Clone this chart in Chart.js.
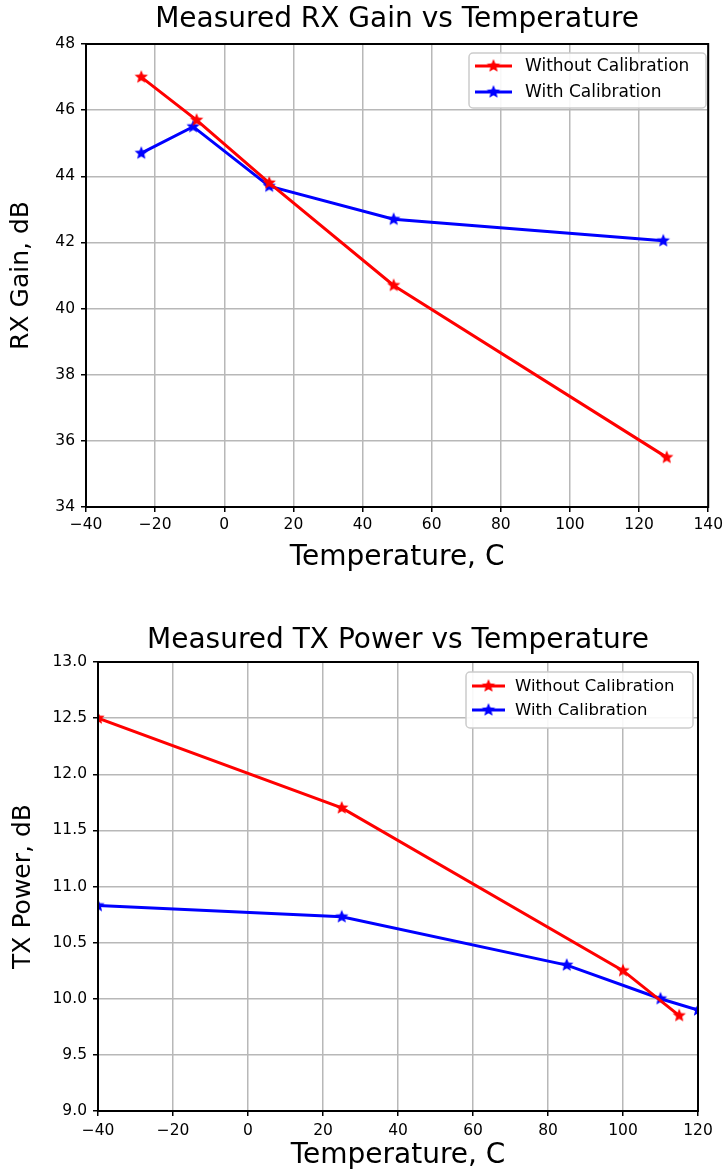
<!DOCTYPE html>
<html>
<head>
<meta charset="utf-8">
<script src="https://cdn.jsdelivr.net/npm/chart.js@4"></script>
<style>
    html, body { margin: 0; padding: 0; background: #fff; }
    .panel { position: absolute; left: 0; width: 727px; }
    #rx-panel { top: 0; height: 590px; }
    #tx-panel { top: 600px; height: 573px; }
</style>
</head>
<body>
<div class="panel" id="rx-panel"><canvas id="chartRx" width="727" height="590"></canvas></div>
<div class="panel" id="tx-panel"><canvas id="chartTx" width="727" height="573"></canvas></div>
<script>
// --- RX gain data ---
const rxTempNoCal = [-24, -8, 13, 49, 128];
const rxGainNoCal = [47.0, 45.7, 43.8, 40.7, 35.5];
const rxTempCal = [-24, -9, 13, 49, 127];
const rxGainCal = [44.7, 45.5, 43.7, 42.7, 42.05];
const rxXTicks = [-40, -20, 0, 20, 40, 60, 80, 100, 120, 140];
const rxYTicks = [34, 36, 38, 40, 42, 44, 46, 48];

// --- TX power data ---
const txTempNoCal = [-40, 25, 100, 115];
const txPowerNoCal = [12.5, 11.7, 10.25, 9.85];
const txTempCal = [-40, 25, 85, 110, 120];
const txPowerCal = [10.83, 10.73, 10.3, 10.0, 9.9];
const txXTicks = [-40, -20, 0, 20, 40, 60, 80, 100, 120];
const txYTicks = [9.0, 9.5, 10.0, 10.5, 11.0, 11.5, 12.0, 12.5, 13.0];

const seriesNames = ['Without Calibration', 'With Calibration'];
const FONT = 'DejaVu Sans';

const toPoints = (xs, ys) => xs.map((x, i) => ({ x, y: ys[i] }));
const minus = v => String(v).replace('-', '\u2212');

function makeStar(color, r) {
    const c = document.createElement('canvas');
    const s = Math.ceil(r * 2 + 2);
    c.width = c.height = s;
    const ctx = c.getContext('2d');
    ctx.beginPath();
    for (let i = 0; i < 10; i++) {
        const a = -Math.PI / 2 + i * Math.PI / 5;
        const rad = i % 2 ? r * 0.45 : r;
        ctx.lineTo(s / 2 + rad * Math.cos(a), s / 2 + rad * Math.sin(a));
    }
    ctx.closePath();
    ctx.fillStyle = color;
    ctx.fill();
    return c;
}

const redStar = makeStar('#ff0000', 7);
const blueStar = makeStar('#0000ff', 7);

// black box round the plot area, like the matplotlib spines
const framePlugin = {
    id: 'frame',
    afterDatasetsDraw(chart) {
        const { ctx, chartArea: a } = chart;
        ctx.save();
        ctx.strokeStyle = '#000';
        ctx.lineWidth = 2;
        ctx.strokeRect(a.left, a.top, a.right - a.left, a.bottom - a.top);
        ctx.restore();
    }
};

// boxed legend inside the plot
const boxLegendPlugin = {
    id: 'boxLegend',
    afterDraw(chart, args, opts) {
        const { ctx } = chart;
        const { x, y, w, h, fontSize, rows, lineFrom, lineTo, textAt } = opts;
        ctx.save();
        ctx.fillStyle = 'rgba(255,255,255,0.9)';
        ctx.strokeStyle = '#cccccc';
        ctx.lineWidth = 1.5;
        ctx.beginPath();
        ctx.roundRect(x, y, w, h, 4);
        ctx.fill();
        ctx.stroke();
        ctx.font = `${fontSize}px "${FONT}"`;
        ctx.textBaseline = 'middle';
        chart.data.datasets.forEach((ds, i) => {
            const ly = rows[i];
            ctx.strokeStyle = ds.borderColor;
            ctx.lineWidth = 3;
            ctx.beginPath();
            ctx.moveTo(lineFrom, ly);
            ctx.lineTo(lineTo, ly);
            ctx.stroke();
            const img = ds.pointStyle;
            const mid = (lineFrom + lineTo) / 2;
            ctx.drawImage(img, mid - img.width / 2, ly - img.height / 2);
            ctx.fillStyle = '#000';
            ctx.fillText(ds.label, textAt, ly + 1);
        });
        ctx.restore();
    }
};

function lineDataset(label, color, star, points) {
    return {
        label,
        data: points,
        borderColor: color,
        backgroundColor: color,
        borderWidth: 3,
        pointStyle: star,
        pointRadius: 7,
        tension: 0
    };
}

function buildChart(canvasId, cfg) {
    const gridStyle = { color: '#b8b8b8', lineWidth: 1.5, tickColor: '#000', tickLength: 5, tickWidth: 1.5 };
    return new Chart(document.getElementById(canvasId), {
        type: 'line',
        data: {
            datasets: [
                lineDataset(seriesNames[0], '#ff0000', redStar, cfg.noCal),
                lineDataset(seriesNames[1], '#0000ff', blueStar, cfg.cal)
            ]
        },
        options: {
            responsive: false,
            animation: false,
            layout: { padding: cfg.padding },
            plugins: {
                legend: { display: false },
                tooltip: { enabled: false },
                title: {
                    display: true,
                    fullSize: false,
                    text: cfg.title,
                    color: '#000',
                    font: { family: FONT, size: 28, weight: 'normal' },
                    padding: cfg.titlePadding
                },
                boxLegend: cfg.legend
            },
            scales: {
                x: {
                    type: 'linear',
                    min: cfg.xTicks[0],
                    max: cfg.xTicks[cfg.xTicks.length - 1],
                    afterBuildTicks: s => { s.ticks = cfg.xTicks.map(v => ({ value: v })); },
                    afterFit: s => { s.height = cfg.xHeight; },
                    grid: gridStyle,
                    border: { color: '#000', width: 2 },
                    ticks: {
                        color: '#000', padding: cfg.xTickPad, maxRotation: 0,
                        font: { family: FONT, size: 15.5 },
                        callback: v => minus(v)
                    },
                    title: {
                        display: true, text: 'Temperature, C', color: '#000',
                        font: { family: FONT, size: 28 },
                        padding: { top: 0, bottom: cfg.xTitlePad }
                    }
                },
                y: {
                    min: cfg.yTicks[0],
                    max: cfg.yTicks[cfg.yTicks.length - 1],
                    afterBuildTicks: s => { s.ticks = cfg.yTicks.map(v => ({ value: v })); },
                    afterFit: s => { s.width = cfg.yWidth; },
                    grid: gridStyle,
                    border: { color: '#000', width: 2 },
                    ticks: {
                        color: '#000', padding: 6,
                        font: { family: FONT, size: 15.5 },
                        callback: cfg.yFormat
                    },
                    title: {
                        display: true, text: cfg.yTitle, color: '#000',
                        font: { family: FONT, size: 25 },
                        padding: { top: cfg.yTitlePad, bottom: 0 }
                    }
                }
            }
        },
        plugins: [framePlugin, boxLegendPlugin]
    });
}

document.addEventListener('DOMContentLoaded', () => {
    buildChart('chartRx', {
        title: 'Measured RX Gain vs Temperature',
        yTitle: 'RX Gain, dB',
        noCal: toPoints(rxTempNoCal, rxGainNoCal),
        cal: toPoints(rxTempCal, rxGainCal),
        xTicks: rxXTicks,
        yTicks: rxYTicks,
        yFormat: v => minus(v),
        padding: { left: 0, right: 16, top: 0, bottom: 0 },
        titlePadding: { top: 3, bottom: 7.4 },
        xHeight: 83,
        xTickPad: 4,
        xTitlePad: 15,
        yWidth: 86,
        yTitlePad: 6,
        legend: {
            x: 469, y: 53, w: 237, h: 55, fontSize: 17,
            rows: [66, 92], lineFrom: 475, lineTo: 512, textAt: 525
        }
    });
    buildChart('chartTx', {
        title: 'Measured TX Power vs Temperature',
        yTitle: 'TX Power, dB',
        noCal: toPoints(txTempNoCal, txPowerNoCal),
        cal: toPoints(txTempCal, txPowerCal),
        xTicks: txXTicks,
        yTicks: txYTicks,
        yFormat: v => v.toFixed(1),
        padding: { left: 0, right: 29, top: 0, bottom: 0 },
        titlePadding: { top: 24, bottom: 4.4 },
        xHeight: 62,
        xTickPad: 6,
        xTitlePad: 0,
        yWidth: 98,
        yTitlePad: 8,
        legend: {
            x: 466, y: 72, w: 227, h: 56, fontSize: 16.5,
            rows: [86, 110], lineFrom: 472, lineTo: 505, textAt: 515
        }
    });
});
</script>
</body>
</html>
